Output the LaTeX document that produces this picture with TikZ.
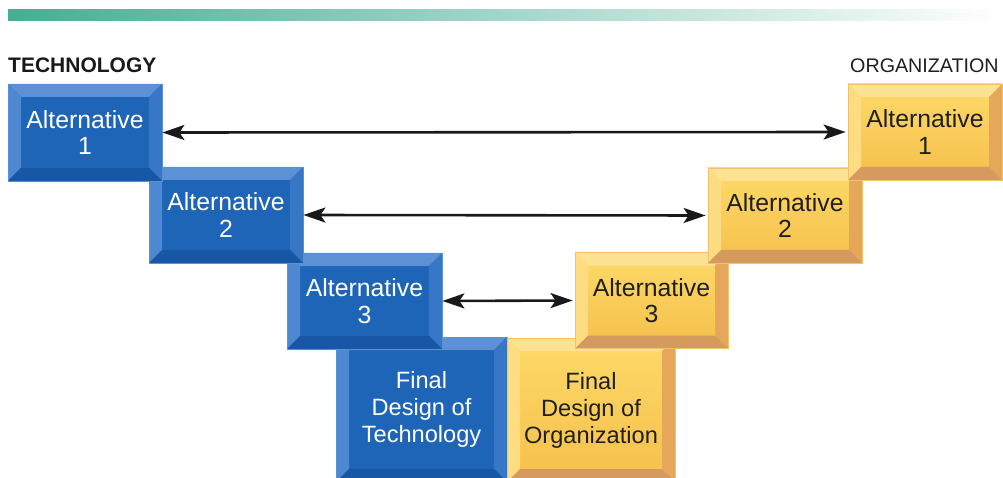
\documentclass[tikz,border=0pt]{standalone}
\usepackage{fontspec}
\setmainfont{Liberation Sans}
\usepackage{tikz}
\usetikzlibrary{arrows.meta}

\definecolor{barleft}{HTML}{48AD93}
\definecolor{techface}{HTML}{1E64B7}
\definecolor{techedge}{HTML}{5A90D6}
\definecolor{techtop}{HTML}{5C91D5}
\definecolor{techleft}{HTML}{4E88D0}
\definecolor{techright}{HTML}{3877C6}
\definecolor{techbottom}{HTML}{1856A6}
\definecolor{orgfacetop}{HTML}{FDDA69}
\definecolor{orgfacebot}{HTML}{F6BF4B}
\definecolor{orgedge}{HTML}{F2C26A}
\definecolor{orgtop}{HTML}{FDE294}
\definecolor{orgleft}{HTML}{FDDC82}
\definecolor{orgright}{HTML}{E5A85A}
\definecolor{orgbottom}{HTML}{D49A5E}

\newcommand{\bevw}{13pt}

\tikzset{
  bevel/.style n args={4}{path picture={
    \fill[#1] (path picture bounding box.north west) -- (path picture bounding box.north east)
      -- ([xshift=-\bevw,yshift=-\bevw]path picture bounding box.north east)
      -- ([xshift=\bevw,yshift=-\bevw]path picture bounding box.north west) -- cycle;
    \fill[#2] (path picture bounding box.north west)
      -- ([xshift=\bevw,yshift=-\bevw]path picture bounding box.north west)
      -- ([xshift=\bevw,yshift=\bevw]path picture bounding box.south west)
      -- (path picture bounding box.south west) -- cycle;
    \fill[#3] (path picture bounding box.north east)
      -- ([xshift=-\bevw,yshift=-\bevw]path picture bounding box.north east)
      -- ([xshift=-\bevw,yshift=\bevw]path picture bounding box.south east)
      -- (path picture bounding box.south east) -- cycle;
    \fill[#4] (path picture bounding box.south west)
      -- ([xshift=\bevw,yshift=\bevw]path picture bounding box.south west)
      -- ([xshift=-\bevw,yshift=\bevw]path picture bounding box.south east)
      -- (path picture bounding box.south east) -- cycle;
  }},
  techbox/.style={rectangle, inner sep=0pt, fill=techface, draw=techedge,
    line width=0.8pt, text=white, align=center,
    font=\fontsize{24.8}{26.5}\selectfont,
    bevel={techtop}{techleft}{techright}{techbottom}},
  orgbox/.style={rectangle, inner sep=0pt, top color=orgfacetop,
    bottom color=orgfacebot, draw=orgedge, line width=0.8pt,
    text=black!88, align=center, font=\fontsize{24.8}{26.5}\selectfont,
    bevel={orgtop}{orgleft}{orgright}{orgbottom}},
  finalfont/.style={font=\fontsize{23.6}{27}\selectfont},
  link/.style={{Stealth[length=22pt,width=15pt,inset=5pt]}-{Stealth[length=22pt,width=15pt,inset=5pt]},
    line width=2.6pt, black!90, shorten >=2pt}
}

\begin{document}
\begin{tikzpicture}[x=1pt, y=-1pt]
\useasboundingbox (0,0) rectangle (1003,478);
\clip (0,0) rectangle (1003,478);

% heading bar
\shade[left color=barleft, right color=white] (8,10) rectangle (1003,21);

% technology side
\node[techbox, finalfont, minimum width=171pt, minimum height=145pt] (techfinal) at (421.5,409.5) {Final\\Design of\\Technology};
\node[techbox, minimum width=155pt, minimum height=96pt] (tech3) at (364.5,301) {Alternative\\3};
\node[techbox, minimum width=154pt, minimum height=96pt] (tech2) at (226,215) {Alternative\\2};
\node[techbox, minimum width=154pt, minimum height=97pt] (tech1) at (85,132.5) {Alternative\\1};

% organization side
\node[orgbox, finalfont, minimum width=168pt, minimum height=144pt] (orgfinal) at (591,410) {Final\\Design of\\Organization};
\node[orgbox, minimum width=153pt, minimum height=96pt] (org3) at (651.5,300.5) {Alternative\\3};
\node[orgbox, minimum width=154pt, minimum height=95pt] (org2) at (785,215.5) {Alternative\\2};
\node[orgbox, minimum width=154pt, minimum height=96pt] (org1) at (925,132) {Alternative\\1};

% arrows
\draw[link] (tech1.east) -- (org1.west);
\draw[link] (tech2.east) -- (org2.west);
\draw[link] (tech3.east) -- (org3.west);

% labels
\node[font=\bfseries\fontsize{21}{21}\selectfont, text=black!90, anchor=base west, inner sep=0pt] (techlabel) at (8,73) {TECHNOLOGY};
\node[font=\fontsize{19.7}{20}\selectfont, text=black!88, anchor=base west, inner sep=0pt] (orglabel) at (850,73) {ORGANIZATION};
\end{tikzpicture}
\end{document}
